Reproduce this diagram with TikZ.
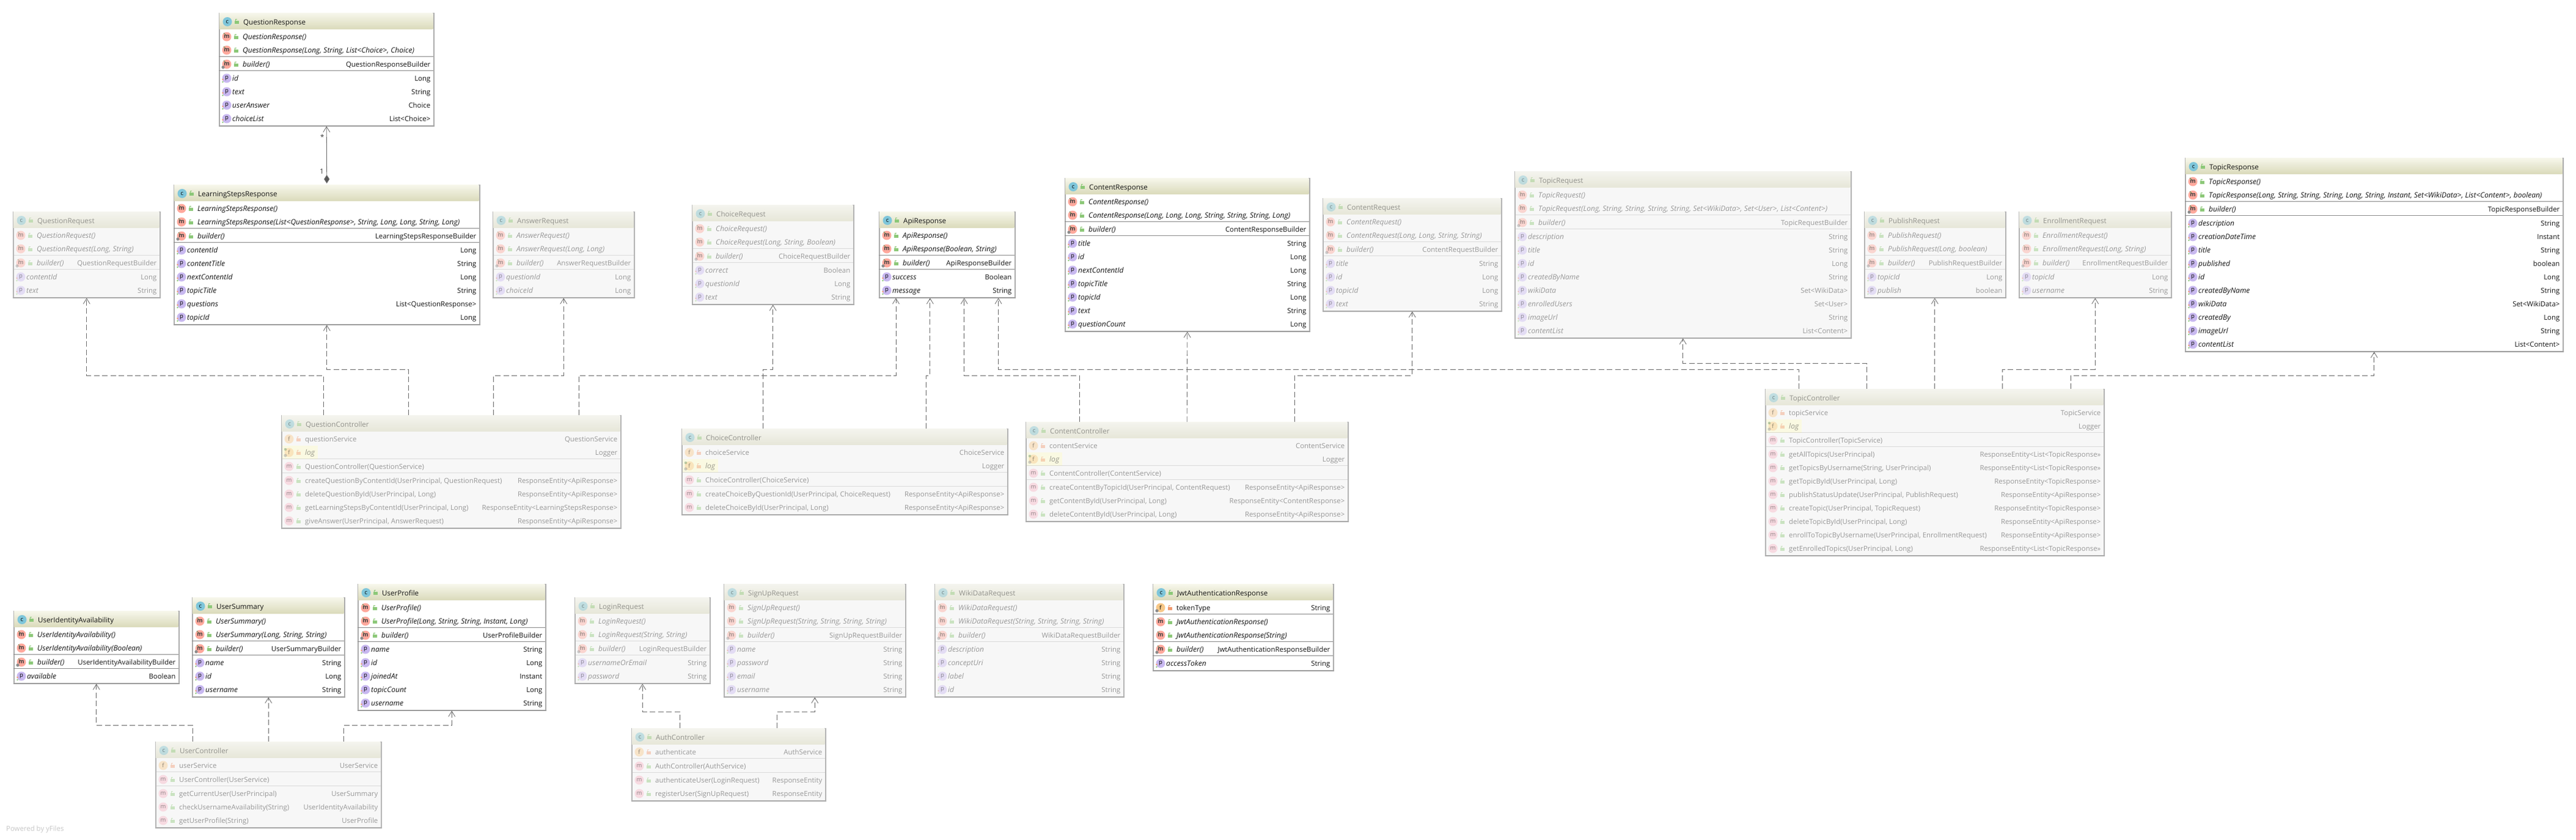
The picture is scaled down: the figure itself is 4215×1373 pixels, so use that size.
\documentclass[tikz,border=0pt]{standalone}
\usepackage{fontspec}
\setmainfont{Open Sans}
\usetikzlibrary{arrows.meta,calc,positioning}
\definecolor{liveline}{HTML}{ACACAC}
\definecolor{fadedline}{HTML}{B4B4B4}
\definecolor{livetop}{HTML}{F6F6EA}
\definecolor{livebot}{HTML}{DADABA}
\definecolor{fadedtop}{HTML}{F4F4EE}
\definecolor{fadedbot}{HTML}{E6E6D8}
\definecolor{iconc}{HTML}{7FC6DA}
\definecolor{iconm}{HTML}{FFA89C}
\definecolor{iconn}{HTML}{F7B4C4}
\definecolor{iconp}{HTML}{C8B8F0}
\definecolor{iconf}{HTML}{F8C888}
\definecolor{lockopen}{HTML}{8CC878}
\definecolor{lockshut}{HTML}{F09A70}
\tikzset{%
	livebox/.style    = {draw=liveline, fill=white},
	fadedbox/.style   = {draw=fadedline, fill=black!3},
	classbox/.style   = {rectangle, line width=1.5pt, inner sep=0pt},
	livehead/.style   = {top color=livetop, bottom color=livebot},
	fadedhead/.style  = {top color=fadedtop, bottom color=fadedbot},
	headbox/.style    = {rectangle, inner sep=0pt, anchor=north west},
	liverows/.style   = {},
	fadedrows/.style  = {opacity=.42},
	livesep/.style    = {draw=black!45, line width=1.2pt},
	fadedsep/.style   = {draw=fadedline, line width=1.2pt},
	liveshade/.style  = {draw=black!45, line width=1.3pt},
	fadedshade/.style = {draw=black!38, line width=1.3pt},
	icon/.style       = {circle, minimum size=15pt, inner sep=0pt, font=\fontsize{9.5}{10}\selectfont},
	lefttext/.style   = {anchor=base west, inner sep=0pt, text=black!92, font=\rowfont},
	righttext/.style  = {anchor=base east, inner sep=0pt, text=black!92, font=\rowfont},
	titletext/.style  = {anchor=base west, inner sep=0pt, text=black!92, font=\fontsize{11.6}{14}\selectfont},
	slanted/.style    = {font=\fontsize{12}{14}\selectfont\itshape},
	dep/.style        = {draw=black!58, line width=.8pt, dash pattern=on 9pt off 4.5pt, -{Straight Barb[length=9pt,width=11pt]}},
	comp/.style       = {draw=black!58, line width=.8pt, {Diamond[length=14pt,width=9pt,fill=black!65]}-{Straight Barb[length=9pt,width=11pt]}},
	mult/.style       = {inner sep=0pt, text=black!80, font=\rowfont},
	waypoint/.style   = {coordinate},
}
\newcommand{\rowfont}{\fontsize{11.4}{14}\selectfont}
\newcount\rowpos
\newcommand{\lockmark}[3]{%
	\fill[#3] (#1-3,#2-1) rectangle (#1+3.5,#2+4);
	\draw[#3,line width=1pt] (#1-2,#2-1) -- (#1-2,#2-4) -- (#1+1,#2-4);
}
\newcommand{\umlrow}[6]{%
	\node[icon,fill=#1] (\curcls-\n-icon) at (\rowx+13,\the\rowpos) {#2};
	\node[lefttext,#3] (\curcls-\n-name) at (\rowx+#4,\the\rowpos+4.5) {#5};
	\node[righttext] (\curcls-\n-type) at (\rowx+\roww-4.5,\the\rowpos+4.5) {#6};
	\global\advance\rowpos by 22
}
\newcommand{\rowc}[2]{% generated constructor
	\umlrow{iconm}{\textcolor{black!75}{\textbf{m}}}{slanted}{39}{#1}{#2}
	\draw[lockopen!70!black,line width=1pt] (\rowx+8,\the\rowpos-22-6) -- (\rowx+11,\the\rowpos-22-3);
	\lockmark{\rowx+28}{\the\rowpos-22}{lockopen}
}
\newcommand{\rowb}[2]{% builder method
	\rowc{#1}{#2}
	\fill[black!45] (\rowx+7,\the\rowpos-22+5) circle (2.6);
}
\newcommand{\rowm}[2]{% plain method
	\umlrow{iconn}{m}{}{39}{#1}{#2}
	\lockmark{\rowx+28}{\the\rowpos-22}{lockopen}
}
\newcommand{\rowp}[2]{% property
	\umlrow{iconp}{p}{slanted}{22}{#1}{#2}
	\fill[lockshut] (\rowx+6.5,\the\rowpos-22+2) circle (1.4);
	\fill[lockopen] (\rowx+6.5,\the\rowpos-22+6) circle (1.4);
}
\newcommand{\rowf}[2]{% private field
	\umlrow{iconf}{f}{}{39}{#1}{#2}
	\lockmark{\rowx+28}{\the\rowpos-22}{lockshut}
}
\newcommand{\rowk}[2]{% final field
	\rowf{#1}{#2}
	\fill[black!45] (\rowx+7,\the\rowpos-22+5) circle (2.6);
}
\newcommand{\rowl}[2]{% static logger
	\fill[yellow!22] (\rowx+2,\the\rowpos-11) rectangle (\rowx+60,\the\rowpos+11);
	\umlrow{iconf}{f}{slanted}{39}{#1}{#2}
	\fill[black!45] (\rowx+7,\the\rowpos-22+5) circle (2.6);
	\fill[lockopen!70!black] (\rowx+7,\the\rowpos-22-5) circle (2.2);
	\lockmark{\rowx+28}{\the\rowpos-22}{lockshut}
}
\newcommand{\rows}[2]{% section line
	\global\advance\rowpos by 1
	\draw[\curlook sep] (\rowx,\the\rowpos-12.5) -- (\rowx+\roww,\the\rowpos-12.5);
}
% [look]{name}{title}{x}{y}{width}{height}{rows}
\newcommand{\umlclass}[8][live]{%
	\def\curcls{#2}\def\curlook{#1}\def\rowx{#4}\def\roww{#6}
	\global\rowpos=\numexpr#5+39\relax
	\node[classbox,#1box,minimum width=#6pt,minimum height=#7pt,anchor=north west] (#2) at (#4,#5) {};
	\node[headbox,#1head,minimum width=#6pt-1.5pt,minimum height=26pt] (#2-head) at (#4+.75,#5+.75) {};
	\draw[#1shade] (#2.south west) -- (#2.south east);
	\begin{scope}[#1rows]
		\node[icon,fill=iconc] (#2-cicon) at (#4+14,#5+14.5) {c};
		\lockmark{#4+29}{#5+14}{lockopen}
		\node[titletext] (#2-title) at (#4+40,#5+19.5) {#3};
		\foreach \kind/\lhs/\rhs [count=\n] in {#8} {
			\csname row\kind\endcsname{\lhs}{\rhs}
		}
	\end{scope}
}
\begin{document}
\begin{tikzpicture}[x=1pt,y=-1pt]
	\path[use as bounding box,fill=white] (0,0) rectangle (4215,1373);
	% upper row
	\umlclass{qres}{QuestionResponse}{358}{21}{351}{184}{c/{QuestionResponse()}/{},c/{QuestionResponse(Long, String, List<Choice>, Choice)}/{},s//,b/{builder()}/{QuestionResponseBuilder},s//,p/id/Long,p/text/String,p/userAnswer/Choice,p/choiceList/{List<Choice>}}
	\umlclass{lres}{LearningStepsResponse}{284}{302}{500}{228}{c/{LearningStepsResponse()}/{},c/{LearningStepsResponse(List<QuestionResponse>, String, Long, Long, String, Long)}/{},s//,b/{builder()}/{LearningStepsResponseBuilder},s//,p/contentId/Long,p/contentTitle/String,p/nextContentId/Long,p/topicTitle/String,p/questions/{List<QuestionResponse>},p/topicId/Long}
	\umlclass[faded]{qreq}{QuestionRequest}{21}{346}{240}{140}{c/{QuestionRequest()}/{},c/{QuestionRequest(Long, String)}/{},s//,b/{builder()}/{QuestionRequestBuilder},s//,p/contentId/Long,p/text/String}
	\umlclass[faded]{areq}{AnswerRequest}{806}{346}{231}{140}{c/{AnswerRequest()}/{},c/{AnswerRequest(Long, Long)}/{},s//,b/{builder()}/{AnswerRequestBuilder},s//,p/questionId/Long,p/choiceId/Long}
	\umlclass[faded]{creq}{ChoiceRequest}{1132}{335}{264}{162}{c/{ChoiceRequest()}/{},c/{ChoiceRequest(Long, String, Boolean)}/{},s//,b/{builder()}/{ChoiceRequestBuilder},s//,p/correct/Boolean,p/questionId/Long,p/text/String}
	\umlclass{api}{ApiResponse}{1438}{346}{222}{140}{c/{ApiResponse()}/{},c/{ApiResponse(Boolean, String)}/{},s//,b/{builder()}/{ApiResponseBuilder},s//,p/success/Boolean,p/message/String}
	\umlclass{cres}{ContentResponse}{1742}{291}{400}{250}{c/{ContentResponse()}/{},c/{ContentResponse(Long, Long, Long, String, String, String, Long)}/{},s//,b/{builder()}/{ContentResponseBuilder},s//,p/title/String,p/id/Long,p/nextContentId/Long,p/topicTitle/String,p/topicId/Long,p/text/String,p/questionCount/Long}
	\umlclass[faded]{ctreq}{ContentRequest}{2164}{324}{292}{184}{c/{ContentRequest()}/{},c/{ContentRequest(Long, Long, String, String)}/{},s//,b/{builder()}/{ContentRequestBuilder},s//,p/title/String,p/id/Long,p/topicId/Long,p/text/String}
	\umlclass[faded]{treq}{TopicRequest}{2478}{280}{550}{272}{c/{TopicRequest()}/{},c/{TopicRequest(Long, String, String, String, String, Set<WikiData>, Set<User>, List<Content>)}/{},s//,b/{builder()}/{TopicRequestBuilder},s//,p/description/String,p/title/String,p/id/Long,p/createdByName/String,p/wikiData/{Set<WikiData>},p/enrolledUsers/{Set<User>},p/imageUrl/String,p/contentList/{List<Content>}}
	\umlclass[faded]{preq}{PublishRequest}{3050}{346}{231}{140}{c/{PublishRequest()}/{},c/{PublishRequest(Long, boolean)}/{},s//,b/{builder()}/{PublishRequestBuilder},s//,p/topicId/Long,p/publish/boolean}
	\umlclass[faded]{ereq}{EnrollmentRequest}{3303}{346}{249}{140}{c/{EnrollmentRequest()}/{},c/{EnrollmentRequest(Long, String)}/{},s//,b/{builder()}/{EnrollmentRequestBuilder},s//,p/topicId/Long,p/username/String}
	\umlclass{tres}{TopicResponse}{3575}{258}{618}{316}{c/{TopicResponse()}/{},c/{TopicResponse(Long, String, String, String, Long, String, Instant, Set<WikiData>, List<Content>, boolean)}/{},s//,b/{builder()}/{TopicResponseBuilder},s//,p/description/String,p/creationDateTime/Instant,p/title/String,p/published/boolean,p/id/Long,p/createdByName/String,p/wikiData/{Set<WikiData>},p/createdBy/Long,p/imageUrl/String,p/contentList/{List<Content>}}
	% controllers
	\umlclass[faded]{qctl}{QuestionController}{460}{679}{555}{184}{f/questionService/QuestionService,l/log/Logger,s//,m/{QuestionController(QuestionService)}/{},s//,m/{createQuestionByContentId(UserPrincipal, QuestionRequest)}/{ResponseEntity<ApiResponse>},m/{deleteQuestionById(UserPrincipal, Long)}/{ResponseEntity<ApiResponse>},m/{getLearningStepsByContentId(UserPrincipal, Long)}/{ResponseEntity<LearningStepsResponse>},m/{giveAnswer(UserPrincipal, AnswerRequest)}/{ResponseEntity<ApiResponse>}}
	\umlclass[faded]{cctl}{ChoiceController}{1115}{701}{533}{140}{f/choiceService/ChoiceService,l/log/Logger,s//,m/{ChoiceController(ChoiceService)}/{},s//,m/{createChoiceByQuestionId(UserPrincipal, ChoiceRequest)}/{ResponseEntity<ApiResponse>},m/{deleteChoiceById(UserPrincipal, Long)}/{ResponseEntity<ApiResponse>}}
	\umlclass[faded]{ctctl}{ContentController}{1678}{690}{527}{162}{f/contentService/ContentService,l/log/Logger,s//,m/{ContentController(ContentService)}/{},s//,m/{createContentByTopicId(UserPrincipal, ContentRequest)}/{ResponseEntity<ApiResponse>},m/{getContentById(UserPrincipal, Long)}/{ResponseEntity<ContentResponse>},m/{deleteContentById(UserPrincipal, Long)}/{ResponseEntity<ApiResponse>}}
	\umlclass[faded]{tctl}{TopicController}{2888}{636}{554}{272}{f/topicService/TopicService,l/log/Logger,s//,m/{TopicController(TopicService)}/{},s//,m/{getAllTopics(UserPrincipal)}/{ResponseEntity<List<TopicResponse>>},m/{getTopicsByUsername(String, UserPrincipal)}/{ResponseEntity<List<TopicResponse>>},m/{getTopicById(UserPrincipal, Long)}/{ResponseEntity<TopicResponse>},m/{publishStatusUpdate(UserPrincipal, PublishRequest)}/{ResponseEntity<ApiResponse>},m/{createTopic(UserPrincipal, TopicRequest)}/{ResponseEntity<TopicResponse>},m/{deleteTopicById(UserPrincipal, Long)}/{ResponseEntity<ApiResponse>},m/{enrollToTopicByUsername(UserPrincipal, EnrollmentRequest)}/{ResponseEntity<ApiResponse>},m/{getEnrolledTopics(UserPrincipal, Long)}/{ResponseEntity<List<TopicResponse>>}}
	% lower row
	\umlclass{uavail}{UserIdentityAvailability}{22}{999}{270}{118}{c/{UserIdentityAvailability()}/{},c/{UserIdentityAvailability(Boolean)}/{},s//,b/{builder()}/{UserIdentityAvailabilityBuilder},s//,p/available/Boolean}
	\umlclass{usum}{UserSummary}{314}{977}{249}{162}{c/{UserSummary()}/{},c/{UserSummary(Long, String, String)}/{},s//,b/{builder()}/{UserSummaryBuilder},s//,p/name/String,p/id/Long,p/username/String}
	\umlclass{uprof}{UserProfile}{585}{955}{307}{206}{c/{UserProfile()}/{},c/{UserProfile(Long, String, String, Instant, Long)}/{},s//,b/{builder()}/{UserProfileBuilder},s//,p/name/String,p/id/Long,p/joinedAt/Instant,p/topicCount/Long,p/username/String}
	\umlclass[faded]{lreq}{LoginRequest}{940}{977}{221}{140}{c/{LoginRequest()}/{},c/{LoginRequest(String, String)}/{},s//,b/{builder()}/{LoginRequestBuilder},s//,p/usernameOrEmail/String,p/password/String}
	\umlclass[faded]{sreq}{SignUpRequest}{1184}{955}{297}{184}{c/{SignUpRequest()}/{},c/{SignUpRequest(String, String, String, String)}/{},s//,b/{builder()}/{SignUpRequestBuilder},s//,p/name/String,p/password/String,p/email/String,p/username/String}
	\umlclass[faded]{wreq}{WikiDataRequest}{1529}{955}{309}{184}{c/{WikiDataRequest()}/{},c/{WikiDataRequest(String, String, String, String)}/{},s//,b/{builder()}/{WikiDataRequestBuilder},s//,p/description/String,p/conceptUri/String,p/label/String,p/id/String}
	\umlclass{jwt}{JwtAuthenticationResponse}{1886}{955}{295}{141}{k/tokenType/String,s//,c/{JwtAuthenticationResponse()}/{},c/{JwtAuthenticationResponse(String)}/{},s//,b/{builder()}/{JwtAuthenticationResponseBuilder},s//,p/accessToken/String}
	\umlclass[faded]{uctl}{UserController}{254}{1213}{369}{140}{f/userService/UserService,s//,m/{UserController(UserService)}/{},s//,m/{getCurrentUser(UserPrincipal)}/{UserSummary},m/{checkUsernameAvailability(String)}/{UserIdentityAvailability},m/{getUserProfile(String)}/{UserProfile}}
	\umlclass[faded]{actl}{AuthController}{1033}{1191}{317}{118}{f/authenticate/AuthService,s//,m/{AuthController(AuthService)}/{},s//,m/{authenticateUser(LoginRequest)}/{ResponseEntity},m/{registerUser(SignUpRequest)}/{ResponseEntity}}
	% tracks of the dashed lines
	\node[waypoint] (trka) at (0,594) {};
	\node[waypoint] (trkb) at (0,604) {};
	\node[waypoint] (trkc) at (0,614) {};
	\node[waypoint] (trkd) at (0,1164) {};
	\node[waypoint] (trke) at (0,1186) {};
	% ends on the boxes
	\foreach \k/\f in {1/.125,2/.375,3/.625,4/.875} {
		\node[waypoint] (qctl\k) at ($(qctl.north west)!\f!(qctl.north east)$) {};
		\node[waypoint] (api\k) at ($(api.south west)!\f!(api.south east)$) {};
	}
	\foreach \k/\f in {1/.25,2/.75} {
		\node[waypoint] (cctl\k) at ($(cctl.north west)!\f!(cctl.north east)$) {};
		\node[waypoint] (actl\k) at ($(actl.north west)!\f!(actl.north east)$) {};
	}
	\foreach \k/\f in {1/.1667,2/.5,3/.8333} {
		\node[waypoint] (ctctl\k) at ($(ctctl.north west)!\f!(ctctl.north east)$) {};
		\node[waypoint] (uctl\k) at ($(uctl.north west)!\f!(uctl.north east)$) {};
	}
	\foreach \k/\f in {1/.1,2/.3,3/.5,4/.7,5/.9} {
		\node[waypoint] (tctl\k) at ($(tctl.north west)!\f!(tctl.north east)$) {};
	}
	% uses
	\draw[dep] (qctl1) |- (trkc -| qreq.south) -- (qreq.south);
	\draw[dep] (qctl2) |- (trkb -| lres.south) -- (lres.south);
	\draw[dep] (qctl3) |- (trkc -| areq.south) -- (areq.south);
	\draw[dep] (qctl4) |- (trkc -| api1) -- (api1);
	\draw[dep] (cctl1) |- (trkb -| creq.south) -- (creq.south);
	\draw[dep] (cctl2) |- (trkc -| api2) -- (api2);
	\draw[dep] (ctctl1) |- (trkc -| api3) -- (api3);
	\draw[dep] (ctctl2) -- (cres.south);
	\draw[dep] (ctctl3) |- (trkc -| ctreq.south) -- (ctreq.south);
	\draw[dep] (tctl1) |- (trkb -| api4) -- (api4);
	\draw[dep] (tctl2) |- (trka -| treq.south) -- (treq.south);
	\draw[dep] (tctl3) -- (tctl3 |- preq.south);
	\draw[dep] (tctl4) |- (trkb -| ereq.south) -- (ereq.south);
	\draw[dep] (tctl5) |- (trkc -| tres.south) -- (tres.south);
	\draw[dep] (uctl1) |- (trke -| uavail.south) -- (uavail.south);
	\draw[dep] (uctl2) -- (uctl2 |- usum.south);
	\draw[dep] (uctl3) |- (trke -| uprof.south) -- (uprof.south);
	\draw[dep] (actl1) |- (trkd -| lreq.south) -- (lreq.south);
	\draw[dep] (actl2) |- (trkd -| sreq.south) -- (sreq.south);
	% composition
	\draw[comp,shorten <=2pt] (lres.north) -- (qres.south);
	\node[mult] (many) at ($(qres.south)+(-7,18)$) {*};
	\node[mult] (one) at ($(lres.north)+(-8,-22)$) {1};
	\node[anchor=west,inner sep=0pt,text=black!22,font=\rowfont] (yfiles) at (10,1357) {Powered by yFiles};
\end{tikzpicture}
\end{document}
